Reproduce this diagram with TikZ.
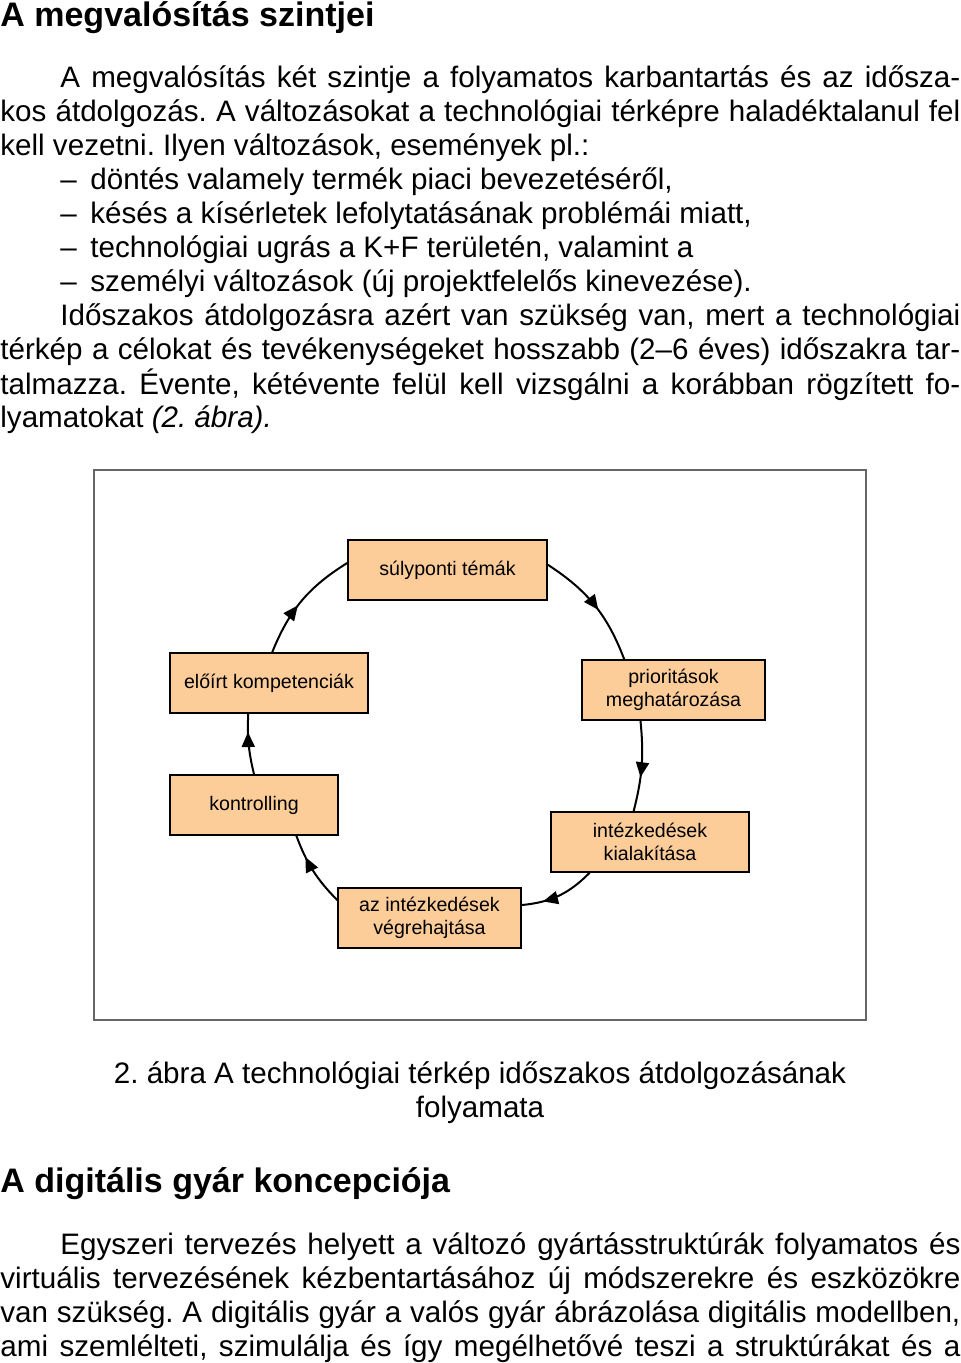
\documentclass[tikz,border=0pt]{standalone}
\usepackage{fontspec}
\setmainfont{Liberation Sans}
\usepackage{tikz}
\usetikzlibrary{arrows.meta}
\usetikzlibrary{decorations.markings}

\definecolor{boxfill}{RGB}{252,204,153}
\newcommand{\jline}[2]{\makebox[#1][s]{#2}}
\frenchspacing

\tikzset{
  stage/.style={draw=black, fill=boxfill, line width=0.8pt, minimum height=30pt,
    align=center, inner sep=2pt, font=\fontsize{9.8}{11.6}\selectfont},
  loopedge/.style={line width=1pt, postaction={decorate},
    decoration={markings, mark=at position #1 with {\arrow{Triangle[length=7.5pt,width=6.5pt]}}}},
  body/.style={anchor=base west, inner sep=0pt, font=\fontsize{14.8}{17}\selectfont},
  head/.style={anchor=base west, inner sep=0pt, font=\fontsize{17}{20}\selectfont\bfseries},
}

\begin{document}
\begin{tikzpicture}[x=0.5pt,y=0.5pt]
\useasboundingbox (0,0) rectangle (960,-1363);

% first section
\node[head] (h1) at (0,-27) {A megvalósítás szintjei};
\node[body] (p1a) at (60,-88) {\jline{450pt}{A megvalósítás két szintje a folyamatos karbantartás és az idősza-}};
\node[body] (p1b) at (0,-122) {\jline{480pt}{kos átdolgozás. A változásokat a technológiai térképre haladéktalanul fel}};
\node[body] (p1c) at (0,-156) {kell vezetni. Ilyen változások, események pl.:};
\node[body] (d1) at (60,-190) {--};
\node[body] (b1) at (90,-190) {döntés valamely termék piaci bevezetéséről,};
\node[body] (d2) at (60,-224) {--};
\node[body] (b2) at (90,-224) {késés a kísérletek lefolytatásának problémái miatt,};
\node[body] (d3) at (60,-258) {--};
\node[body] (b3) at (90,-258) {technológiai ugrás a K+F területén, valamint a};
\node[body] (d4) at (60,-292) {--};
\node[body] (b4) at (90,-292) {személyi változások (új projektfelelős kinevezése).};
\node[body] (p2a) at (60,-326) {\jline{450pt}{Időszakos átdolgozásra azért van szükség van, mert a technológiai}};
\node[body] (p2b) at (0,-360) {\jline{480pt}{térkép a célokat és tevékenységeket hosszabb (2--6 éves) időszakra tar-}};
\node[body] (p2c) at (0,-394) {\jline{480pt}{talmazza. Évente, kétévente felül kell vizsgálni a korábban rögzített fo-}};
\node[body] (p2d) at (0,-428) {lyamatokat \textit{(2. ábra).}};

% figure
\draw[black!60, line width=0.6pt] (94,-470) rectangle (866,-1020);

\node[stage, minimum width=99.5pt] (sulypont) at (447.5,-570) {súlyponti témák};
\node[stage, minimum width=91.5pt] (prior) at (673.5,-690) {prioritások\\meghatározása};
\node[stage, minimum width=99pt] (intezk) at (650,-842) {intézkedések\\kialakítása};
\node[stage, minimum width=91.5pt] (vegre) at (429.5,-918) {az intézkedések\\végrehajtása};
\node[stage, minimum width=84pt] (kontr) at (254,-805) {kontrolling};
\node[stage, minimum width=99pt] (eloirt) at (269,-683) {előírt kompetenciák};

\draw[loopedge=0.55] (sulypont.3) to[bend left=18] (prior.148);
\draw[loopedge=0.62] (prior.223) to[bend left=10] (intezk.118);
\draw[loopedge=0.72] (intezk.207) to[bend left=20] (vegre.8);
\draw[loopedge=0.7] (vegre.169) to[bend left=12] (kontr.324);
\draw[loopedge=0.7] (kontr.north) to[bend left=8] (eloirt.236);
\draw[loopedge=0.45] (eloirt.84) to[bend left=18] (sulypont.176);

\node[body, anchor=base] (cap1) at (480,-1083) {2. ábra A technológiai térkép időszakos átdolgozásának};
\node[body, anchor=base] (cap2) at (480,-1117) {folyamata};

% second section
\node[head] (h2) at (0,-1192) {A digitális gyár koncepciója};
\node[body] (p3a) at (60,-1254) {\jline{450pt}{Egyszeri tervezés helyett a változó gyártásstruktúrák folyamatos és}};
\node[body] (p3b) at (0,-1288) {\jline{480pt}{virtuális tervezésének kézbentartásához új módszerekre és eszközökre}};
\node[body] (p3c) at (0,-1322) {\jline{480pt}{van szükség. A digitális gyár a valós gyár ábrázolása digitális modellben,}};
\node[body] (p3d) at (0,-1356) {\jline{480pt}{ami szemlélteti, szimulálja és így megélhetővé teszi a struktúrákat és a}};
\end{tikzpicture}
\end{document}
